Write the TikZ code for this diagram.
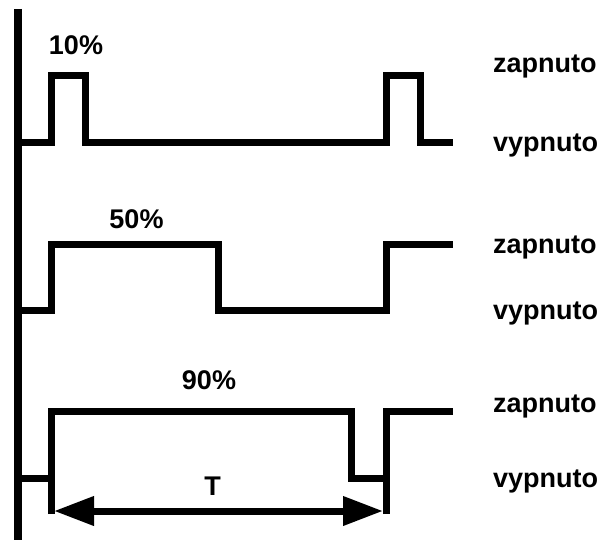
\documentclass[tikz,border=0pt]{standalone}
\usepackage{fontspec}
\setmainfont{Liberation Sans}
\usetikzlibrary{arrows.meta}
\begin{document}
\begin{tikzpicture}[x=1bp,y=-1bp,
  sig/.style={line width=7bp,line join=miter},
  lab/.style={inner sep=0pt,font=\fontsize{27bp}{30bp}\selectfont\bfseries},
  dim/.style={line width=7bp,{Triangle[length=40bp,width=28bp]}-{Triangle[length=40bp,width=28bp]}}]
\useasboundingbox (0,0) rectangle (602,540);
% axis
\draw[line width=7.5bp] (18,9) -- (18,540);
% 10 %
\draw[sig] (18,143) -- (51,143) -- (51,76) -- (85,76) -- (85,143) -- (386,143) -- (386,76) -- (420,76) -- (420,143) -- (453,143);
% 50 %
\draw[sig] (18,310) -- (51,310) -- (51,244) -- (218,244) -- (218,310) -- (386,310) -- (386,244) -- (453,244);
% 90 %
\draw[sig] (18,478) -- (51,478);
\draw[sig] (51,514) -- (51,411) -- (351,411) -- (351,478) -- (386,478);
\draw[sig] (386,514) -- (386,411) -- (453,411);
% period arrow
\coordinate (tA) at (54,511);
\coordinate (tB) at (383,511);
\draw[dim] (tA) -- (tB);
% labels
\node[lab,anchor=base] (p10) at (76,55) {10\%};
\node[lab,anchor=base] (p50) at (136.5,229) {50\%};
\node[lab,anchor=base] (p90) at (209,389) {90\%};
\node[lab,anchor=base] (tt) at (212.5,495) {T};
\node[lab,anchor=base west] (z1) at (493,73) {zapnuto};
\node[lab,anchor=base west] (v1) at (493,152) {vypnuto};
\node[lab,anchor=base west] (z2) at (493,253) {zapnuto};
\node[lab,anchor=base west] (v2) at (493,319) {vypnuto};
\node[lab,anchor=base west] (z3) at (493,412) {zapnuto};
\node[lab,anchor=base west] (v3) at (493,487) {vypnuto};
\end{tikzpicture}
\end{document}
